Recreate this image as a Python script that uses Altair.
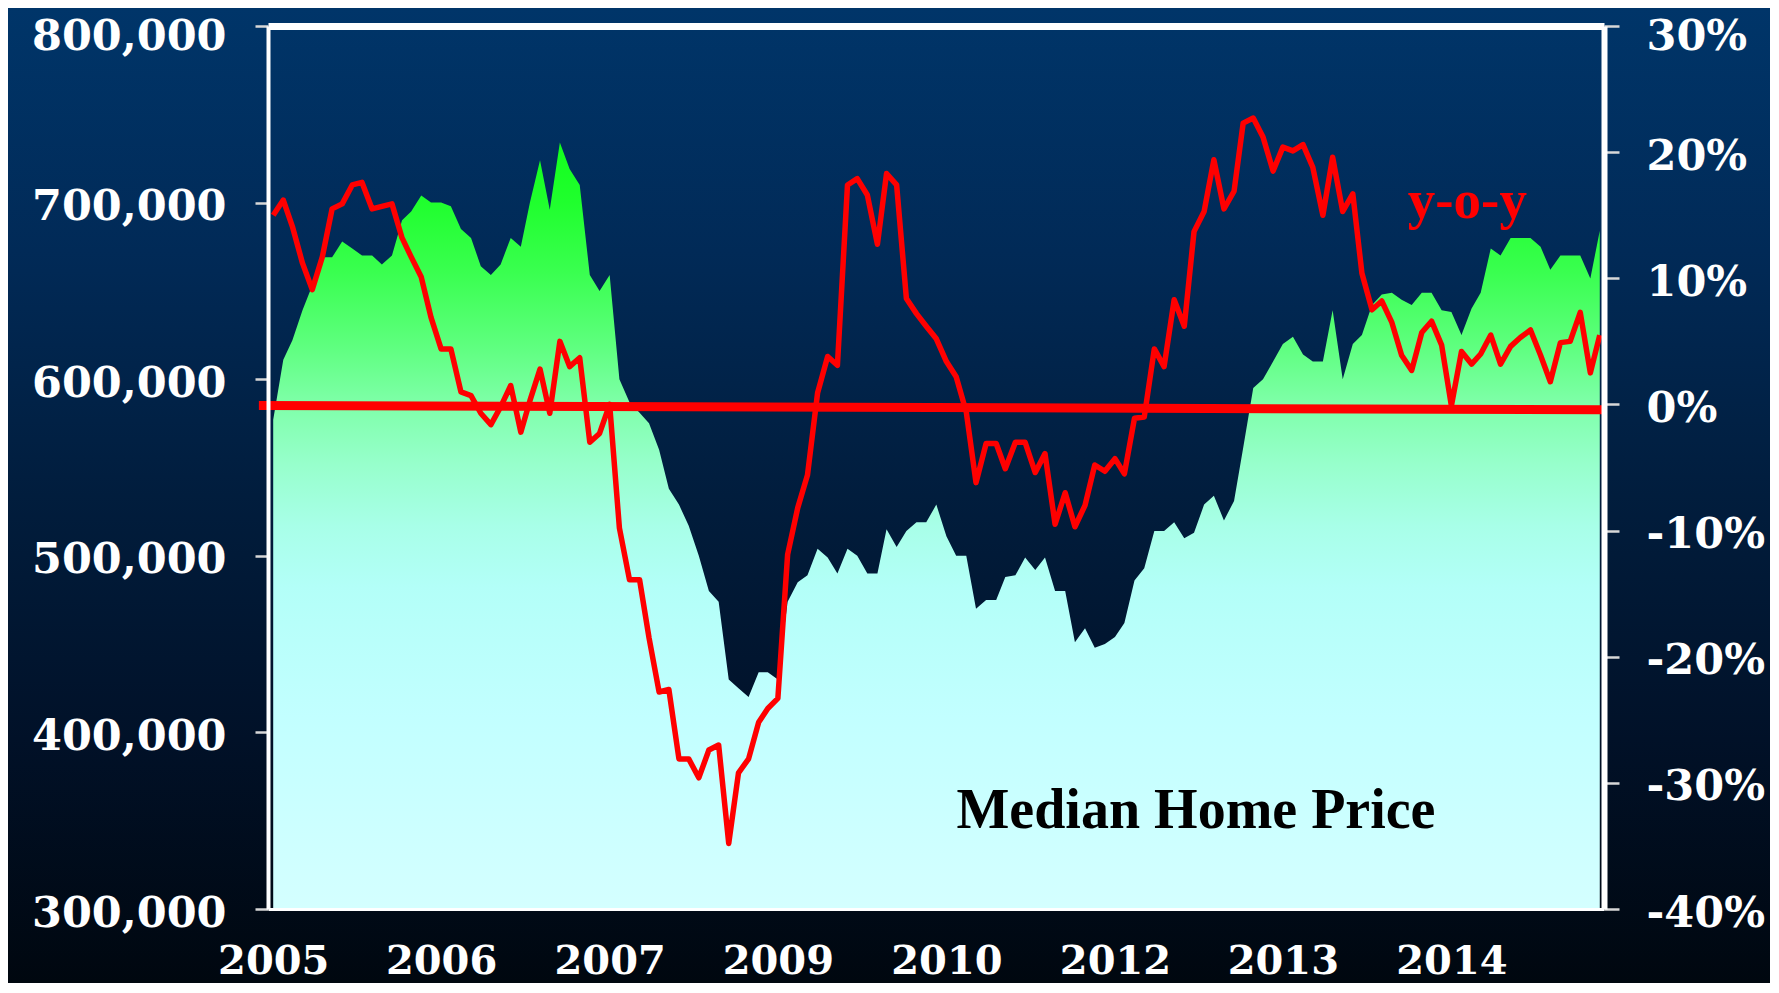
import altair as alt
import pandas as pd

# ---------------- data ----------------
start_month = "2005-01-01"
n_months = 135

# median home price, thousands of dollars, monthly Jan 2005 .. Mar 2016
median_price_k = [
    577, 611, 622, 639, 653, 669, 669, 678, 674, 670,
    670, 665, 670, 690, 695, 704, 700, 700, 698, 685,
    680, 664, 659, 665, 680, 675, 700, 724, 696, 734,
    719, 710, 659, 650, 659, 600, 587, 581, 575, 560,
    538, 529, 517, 500, 480, 474, 430, 425, 420, 434,
    434, 430, 474, 485, 489, 504, 499, 490, 504, 500,
    490, 490, 515, 505, 514, 519, 519, 529, 511, 500,
    500, 470, 475, 475, 488, 489, 499, 492, 499, 480,
    480, 451, 459, 448, 450, 454, 462, 486, 493, 514,
    514, 519, 510, 513, 529, 534, 520, 531, 561, 595,
    600, 610, 620, 624, 614, 610, 610, 639, 600, 620,
    625, 642, 648, 649, 645, 642, 649, 649, 639, 638,
    625, 640, 649, 674, 670, 680, 680, 680, 675, 662,
    670, 670, 670, 657, 684,
]

# year-over-year change, percent
yoy_pct = [
    15.0, 16.2, 14.1, 11.2, 9.1, 11.7, 15.5, 15.9, 17.4, 17.6,
    15.5, 15.7, 15.9, 13.2, 11.7, 10.1, 6.9, 4.4, 4.4, 1.0,
    0.7, -0.7, -1.6, -0.2, 1.5, -2.2, 0.3, 2.8, -0.7, 5.0,
    3.0, 3.7, -3.0, -2.3, 0.0, -9.8, -13.9, -13.9, -18.5, -22.8,
    -22.6, -28.1, -28.1, -29.6, -27.4, -27.0, -34.8, -29.2, -28.1, -25.2,
    -24.1, -23.3, -11.9, -8.2, -5.6, 0.9, 3.8, 3.1, 17.4, 17.9,
    16.6, 12.7, 18.3, 17.4, 8.4, 7.2, 6.2, 5.2, 3.4, 2.2,
    -0.6, -6.2, -3.1, -3.1, -5.1, -3.0, -3.0, -5.4, -3.9, -9.5,
    -7.0, -9.7, -8.0, -4.8, -5.3, -4.3, -5.5, -1.1, -1.0, 4.4,
    3.0, 8.3, 6.2, 13.7, 15.3, 19.4, 15.5, 16.9, 22.3, 22.7,
    21.2, 18.5, 20.4, 20.1, 20.6, 18.8, 15.0, 19.6, 15.3, 16.7,
    10.4, 7.5, 8.2, 6.5, 3.9, 2.7, 5.7, 6.6, 4.7, -0.1,
    4.2, 3.2, 4.0, 5.5, 3.2, 4.6, 5.3, 5.9, 3.9, 1.8,
    4.9, 5.0, 7.3, 2.5, 5.5,
]

# the thick red "zero" line (slightly sloped in the original)
trend_dates = ["2004-11-18", "2016-03-12"]
trend_pct = [-0.08, -0.42]

year_ticks = [(2005, 1), (2006, 6), (2007, 11), (2009, 4),
              (2010, 9), (2012, 2), (2013, 7), (2014, 12)]
price_ticks = [300000, 400000, 500000, 600000, 700000, 800000]
pct_ticks = [-40, -30, -20, -10, 0, 10, 20, 30]

months = pd.date_range(start_month, periods=n_months, freq="MS")
df = pd.DataFrame({"month": months,
                   "price": [v * 1000 for v in median_price_k],
                   "yoy": yoy_pct})
trend = pd.DataFrame({"month": pd.to_datetime(trend_dates), "yoy": trend_pct})
one = pd.DataFrame({"k": [0]})

# ---------------- layout / style ----------------
W, H = 1336, 883
PAD = {"left": 260, "top": 18, "right": 166, "bottom": 74}
AXIS_FONT = "DejaVu Serif"
TEXT_FONT = "Liberation Serif"

def xscale():
    return alt.Scale(domain=[alt.DateTime(year=2004, month=12, date=16),
                             alt.DateTime(year=2016, month=3, date=14)])

def price_scale():
    return alt.Scale(domain=[300000, 800000], zero=False, nice=False)

def pct_scale():
    return alt.Scale(domain=[-40, 30], zero=False, nice=False)

bg_gradient = alt.Gradient(
    gradient="linear", x1=0, x2=0, y1=0, y2=1,
    stops=[alt.GradientStop(color="#003569", offset=0.0),
           alt.GradientStop(color="#012a57", offset=0.25),
           alt.GradientStop(color="#011d3d", offset=0.5),
           alt.GradientStop(color="#011128", offset=0.75),
           alt.GradientStop(color="#00070f", offset=1.0)])

area_gradient = alt.Gradient(
    gradient="linear", x1=0, x2=0, y1=0, y2=1,
    stops=[alt.GradientStop(color="#12ff1c", offset=0.0),
           alt.GradientStop(color="#20ff2e", offset=0.08),
           alt.GradientStop(color="#3aff50", offset=0.17),
           alt.GradientStop(color="#5cff7c", offset=0.26),
           alt.GradientStop(color="#7effa8", offset=0.34),
           alt.GradientStop(color="#97ffcc", offset=0.42),
           alt.GradientStop(color="#a8ffe8", offset=0.50),
           alt.GradientStop(color="#b3fff8", offset=0.58),
           alt.GradientStop(color="#c2ffff", offset=0.75),
           alt.GradientStop(color="#d4ffff", offset=1.0)])

bottom_axis = alt.Axis(
    orient="bottom", values=[alt.DateTime(year=y, month=m, date=1) for y, m in year_ticks],
    format="%Y", labelFont=AXIS_FONT, labelFontWeight="bold", labelFontSize=40,
    labelColor="white", labelPadding=32, labelLimit=0, ticks=False,
    domainColor="white", domainWidth=3, grid=False, title=None,
    labelOverlap=False, labelFlush=False, zindex=1)
left_axis = alt.Axis(
    orient="left", values=price_ticks, format=",d", labelFont=AXIS_FONT,
    labelFontWeight="bold", labelFontSize=43, labelColor="white", labelPadding=29,
    labelOffset={"condition": {"test": "datum.value >= 800000", "value": 10}, "value": 4},
    labelLimit=0, tickSize=13, tickWidth=2.5, tickColor="#d8d8d8",
    domainColor="white", domainWidth=4, grid=False, title=None,
    labelOverlap=False, labelFlush=False, zindex=1)
right_axis = alt.Axis(
    orient="right", values=pct_ticks, labelExpr="datum.value + '%'",
    labelFont=AXIS_FONT, labelFontWeight="bold", labelFontSize=43,
    labelColor="white", labelPadding=27,
    labelOffset={"condition": {"test": "datum.value >= 30", "value": 10}, "value": 4},
    labelLimit=0, tickSize=15, tickWidth=2.5, tickColor="#d8d8d8",
    domainColor="white", domainWidth=6, grid=False, title=None,
    labelOverlap=False, labelFlush=False, zindex=1)
top_axis = alt.Axis(orient="top", labels=False, ticks=False, domainColor="white",
                    domainWidth=7, grid=False, title=None, zindex=1)

background = alt.Chart(one).mark_rect(fill=bg_gradient, clip=False).encode(
    x=alt.value(-PAD["left"]), x2=alt.value(W + PAD["right"]),
    y=alt.value(-PAD["top"]), y2=alt.value(H + PAD["bottom"]),
)

area = alt.Chart(df).mark_area(fill=area_gradient, line=False, clip=False).encode(
    x=alt.X("month:T", scale=xscale(), axis=bottom_axis),
    y=alt.Y("price:Q", scale=price_scale(), axis=left_axis),
    y2=alt.Y2(datum=300000),
)

median_label = alt.Chart(one).mark_text(
    text="Median Home Price", font=TEXT_FONT, fontWeight="bold", fontSize=56,
    color="black", align="center", baseline="alphabetic").encode(
    x=alt.XDatum(alt.DateTime(year=2012, month=10, date=7), type="temporal",
                 scale=xscale(), axis=None),
    y=alt.YDatum(345900, type="quantitative", scale=price_scale(), axis=None),
)

zero_line = alt.Chart(trend).mark_line(color="#ff0000", strokeWidth=9, clip=False).encode(
    x=alt.X("month:T", scale=xscale(), axis=None),
    y=alt.Y("yoy:Q", scale=pct_scale(), axis=None),
)

yoy_line = alt.Chart(df).mark_line(
    color="#ff0000", strokeWidth=5.5, strokeJoin="round", clip=False).encode(
    x=alt.X("month:T", scale=xscale(), axis=top_axis),
    y=alt.Y("yoy:Q", scale=pct_scale(), axis=right_axis),
)

yoy_label = alt.Chart(one).mark_text(
    text="y-o-y", font=TEXT_FONT, fontWeight="bold", fontSize=55,
    color="#ff0000", align="center", baseline="alphabetic").encode(
    x=alt.XDatum(alt.DateTime(year=2015, month=1, date=19), type="temporal",
                 scale=xscale(), axis=None),
    y=alt.YDatum(14.76, type="quantitative", scale=pct_scale(), axis=None),
)

chart = (
    alt.layer(background, area, median_label, zero_line, yoy_line, yoy_label)
    .resolve_scale(y="independent")
    .resolve_axis(x="independent", y="independent")
    .properties(width=W, height=H,
                autosize=alt.AutoSizeParams(type="none"),
                padding=PAD)
    .configure(background="#011a36")
    .configure_view(stroke=None)
)

chart.save("out.html", embed_options={"renderer": "svg", "actions": False})
